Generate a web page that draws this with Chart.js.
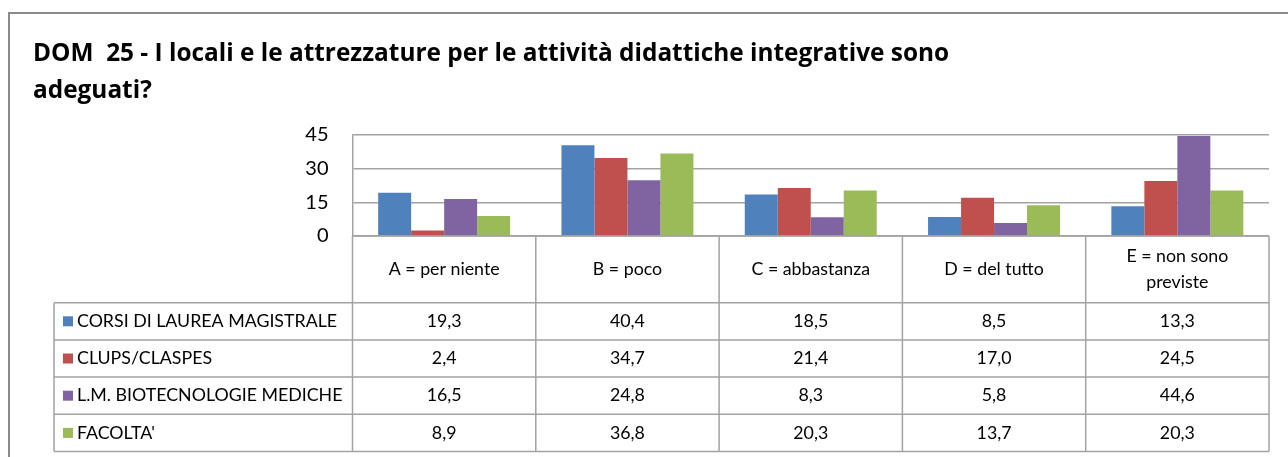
<!DOCTYPE html>
<html lang="it">
<head>
    <meta charset="UTF-8">
    <title>DOM 25</title>
    <script src="https://cdn.jsdelivr.net/npm/chart.js"></script>
    <style>
        body {
            margin: 0;
            padding: 0;
            background: #ffffff;
        }

        .wrap {
            position: relative;
            width: 1288px;
            height: 457px;
            overflow: hidden;
        }

        /* cornice grigia del grafico (bordo superiore e sinistro visibili) */
        .frame {
            position: absolute;
            left: 8px;
            top: 12px;
            width: 1300px;
            height: 480px;
            border-top: 2px solid #8a8a8a;
            border-left: 2px solid #8a8a8a;
        }

        canvas {
            position: absolute;
            left: 0;
            top: 0;
        }
    </style>
</head>
<body>
    <div class="wrap">
        <div class="frame"></div>
        <canvas id="dom25"></canvas>
    </div>

    <script>
        // Categorie (righe di intestazione della tabella dati)
        const categories = ['A = per niente', 'B = poco', 'C = abbastanza', 'D = del tutto', ['E = non sono', 'previste']];

        // Serie
        const seriesNames = ['CORSI DI LAUREA MAGISTRALE', 'CLUPS/CLASPES', 'L.M. BIOTECNOLOGIE MEDICHE', "FACOLTA'"];
        const corsiMagistrale = [19.3, 40.4, 18.5, 8.5, 13.3];
        const clupsClaspes = [2.4, 34.7, 21.4, 17.0, 24.5];
        const biotecnologie = [16.5, 24.8, 8.3, 5.8, 44.6];
        const facolta = [8.9, 36.8, 20.3, 13.7, 20.3];

        // Tacche asse Y
        const yTicks = [0, 15, 30, 45];

        const colors = ['#4F81BD', '#C0504D', '#8064A2', '#9BBB59'];
        const fontFamily = 'Lato, "Open Sans", sans-serif';
        const titleFont = '"Open Sans", Lato, sans-serif';
        const lineColor = '#a3a3a3';

        // Tabella dati sotto il grafico (stile Excel)
        const dataTablePlugin = {
            id: 'dataTable',
            afterDraw(chart, args, opts) {
                const ctx = chart.ctx;
                const area = chart.chartArea;
                const xs = chart.scales.x;
                const n = chart.data.labels.length;
                const step = (area.right - area.left) / n;
                const headTop = area.bottom;
                const headBottom = headTop + opts.headerHeight;
                const rows = chart.data.datasets.length;
                const tableBottom = headBottom + rows * opts.rowHeight;

                ctx.save();
                ctx.strokeStyle = lineColor;
                ctx.lineWidth = 1.5;

                // linee orizzontali
                ctx.beginPath();
                ctx.moveTo(area.left, headTop);
                ctx.lineTo(area.right, headTop);
                for (let r = 0; r <= rows; r++) {
                    const y = headBottom + r * opts.rowHeight;
                    ctx.moveTo(opts.legendLeft, y);
                    ctx.lineTo(area.right, y);
                }
                // linee verticali
                for (let i = 0; i <= n; i++) {
                    const x = area.left + i * step;
                    ctx.moveTo(x, headTop);
                    ctx.lineTo(x, tableBottom);
                }
                ctx.moveTo(opts.legendLeft, headBottom);
                ctx.lineTo(opts.legendLeft, tableBottom);
                ctx.stroke();

                // intestazioni categorie
                ctx.fillStyle = '#000';
                ctx.textAlign = 'center';
                ctx.textBaseline = 'middle';
                ctx.font = opts.fontSize + 'px ' + fontFamily;
                chart.data.labels.forEach((lab, i) => {
                    const cx = xs.getPixelForValue(i);
                    const lines = Array.isArray(lab) ? lab : [lab];
                    const cy = (headTop + headBottom) / 2;
                    lines.forEach((t, k) => {
                        const y = cy + (k - (lines.length - 1) / 2) * opts.lineGap;
                        ctx.fillText(t, cx, y);
                    });
                });

                // righe serie
                chart.data.datasets.forEach((ds, r) => {
                    const cy = headBottom + r * opts.rowHeight + opts.rowHeight / 2;
                    ctx.fillStyle = ds.backgroundColor;
                    ctx.fillRect(opts.legendLeft + 9, cy - 5, 10, 10);
                    ctx.fillStyle = '#000';
                    ctx.textAlign = 'left';
                    ctx.fillText(ds.label, opts.legendLeft + 23, cy);
                    ctx.textAlign = 'center';
                    ds.data.forEach((v, i) => {
                        ctx.fillText(v.toFixed(1).replace('.', ','), xs.getPixelForValue(i), cy);
                    });
                });
                ctx.restore();
            }
        };

        const ctx = document.getElementById('dom25').getContext('2d');
        new Chart(ctx, {
            type: 'bar',
            data: {
                labels: categories,
                datasets: [
                    { label: seriesNames[0], data: corsiMagistrale, backgroundColor: colors[0] },
                    { label: seriesNames[1], data: clupsClaspes, backgroundColor: colors[1] },
                    { label: seriesNames[2], data: biotecnologie, backgroundColor: colors[2] },
                    { label: seriesNames[3], data: facolta, backgroundColor: colors[3] }
                ]
            },
            options: {
                responsive: true,
                maintainAspectRatio: false,
                animation: false,
                layout: {
                    padding: { top: 0, left: 33, right: 19, bottom: 221 }
                },
                datasets: {
                    bar: {
                        categoryPercentage: 0.72,
                        barPercentage: 1.0,
                        borderWidth: 0
                    }
                },
                plugins: {
                    legend: { display: false },
                    tooltip: { enabled: false },
                    title: {
                        display: true,
                        align: 'start',
                        text: ['DOM  25 - I locali e le attrezzature per le attività didattiche integrative sono', 'adeguati?'],
                        color: '#000',
                        font: { family: titleFont, size: 24.4, weight: 'bold', lineHeight: '37px' },
                        padding: { top: 36, bottom: 25 }
                    },
                    dataTable: {
                        headerHeight: 66.7,
                        rowHeight: 37.2,
                        legendLeft: 54,
                        fontSize: 17.8,
                        lineGap: 26
                    }
                },
                scales: {
                    x: {
                        display: false
                    },
                    y: {
                        min: 0,
                        max: 45,
                        afterFit(scale) { scale.width = 319.5; },
                        afterBuildTicks(scale) { scale.ticks = yTicks.map(v => ({ value: v })); },
                        ticks: {
                            color: '#000',
                            padding: 24,
                            font: { family: fontFamily, size: 20 }
                        },
                        grid: {
                            color: lineColor,
                            lineWidth: 1.5,
                            drawTicks: false
                        },
                        border: {
                            display: true,
                            color: lineColor,
                            width: 1.5
                        }
                    }
                }
            },
            plugins: [dataTablePlugin]
        });
    </script>
</body>
</html>
